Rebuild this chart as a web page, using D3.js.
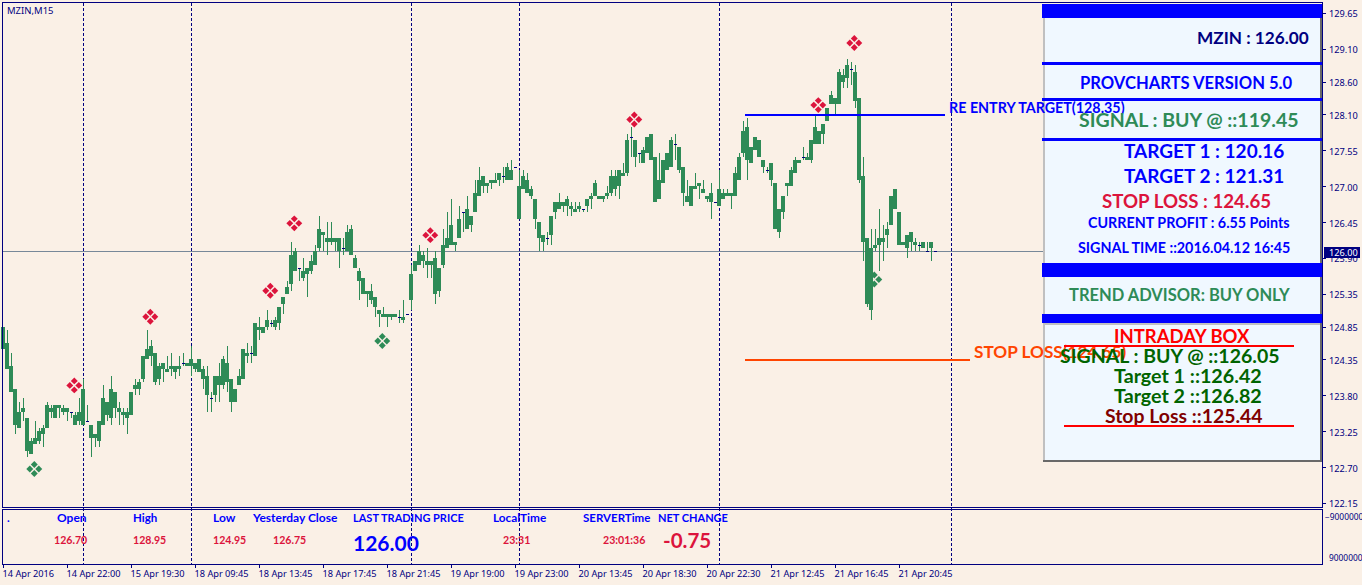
<!DOCTYPE html>
<html>
<head>
<meta charset="utf-8">
<script src="https://d3js.org/d3.v7.min.js"></script>
<style>
html, body { margin: 0; padding: 0; background: #FAF0E6; overflow: hidden; }
svg { display: block; }
.axis text { font-family: "Noto Sans", sans-serif; font-size: 9.2px; fill: #000080; }
.axis line { stroke: #000080; shape-rendering: crispEdges; }
.axis .domain { display: none; }
.panel text, .sub text, .obj text { font-family: Lato, sans-serif; font-weight: bold; }
</style>
</head>
<body>
<div id="graphic"></div>
<script>
// candle body edges and wick ends, one entry per 15 minute bar
var bodyTops = [
  124.85,124.60,124.25,123.90,123.55,123.60,123.45,123.10,123.15,123.25,
  123.30,123.65,123.60,123.65,123.65,123.60,123.60,123.55,123.50,123.55,
  123.90,123.40,123.35,123.20,123.40,123.75,123.70,123.90,123.85,123.60,
  123.55,123.55,123.85,123.95,124.00,124.40,124.50,124.55,124.45,124.25,
  124.30,124.20,124.25,124.25,124.25,124.30,124.30,124.35,124.30,124.35,
  124.20,124.10,123.75,124.10,124.10,124.35,124.30,124.05,123.90,124.10,
  124.50,124.45,124.45,124.90,124.85,124.85,124.95,124.90,124.95,125.15,
  125.30,125.45,125.95,126.00,125.75,125.70,125.75,125.85,126.00,126.35,
  126.30,126.20,126.20,126.20,126.20,126.05,126.30,126.35,125.90,125.70,
  125.60,125.40,125.40,125.30,125.10,125.05,125.05,125.05,125.05,125.00,
  125.00,125.05,125.65,125.85,126.00,125.95,125.85,125.85,125.90,125.75,
  126.10,126.20,126.40,126.15,126.50,126.60,126.65,126.55,126.90,127.10,
  127.15,127.05,127.10,127.10,127.20,127.15,127.30,127.25,127.30,127.00,
  127.15,127.10,126.95,126.80,126.45,126.25,126.20,126.55,126.75,126.75,
  126.75,126.80,126.70,126.65,126.70,126.65,126.80,126.85,127.05,126.85,
  126.85,126.90,127.15,127.15,127.25,127.20,127.70,127.75,127.70,127.50,
  127.55,127.75,127.80,127.45,127.10,127.40,127.50,127.70,127.65,127.60,
  127.30,126.85,127.00,127.00,127.05,126.95,126.85,126.90,126.75,126.95,
  126.90,126.90,126.90,127.20,127.45,127.85,127.90,127.60,127.75,127.70,
  127.40,127.25,127.35,127.05,126.65,126.85,127.05,127.25,127.40,127.40,
  127.45,127.45,127.70,127.90,127.85,127.95,128.20,128.40,128.35,128.75,
  128.70,128.85,128.80,128.75,128.35,127.15,126.20,126.05,126.10,126.20,
  126.20,126.35,126.85,126.95,126.60,126.15,126.25,126.30,126.15,126.10,
  126.15,126.00,126.15,126.00
];
var bodyBottoms = [
  124.50,124.20,123.85,123.35,123.30,123.55,122.95,122.90,123.05,123.10,
  123.20,123.30,123.55,123.45,123.60,123.55,123.55,123.55,123.35,123.40,
  123.35,123.40,123.15,123.15,123.10,123.35,123.50,123.45,123.60,123.55,
  123.50,123.45,123.50,123.90,123.90,124.05,124.35,124.40,124.00,124.05,
  124.20,124.15,124.20,124.15,124.20,124.30,124.25,124.25,124.20,124.15,
  124.05,123.80,123.75,123.80,123.95,123.95,124.00,123.70,123.70,123.95,
  124.05,124.40,124.45,124.40,124.80,124.75,124.85,124.90,124.85,124.90,
  125.20,125.35,125.50,125.70,125.75,125.60,125.65,125.70,125.80,126.05,
  126.25,126.15,126.15,126.15,126.00,126.05,126.00,125.95,125.75,125.55,
  125.35,125.35,125.25,125.15,125.05,125.00,125.00,125.00,125.00,125.00,
  124.95,125.05,125.25,125.70,125.80,125.85,125.80,125.80,125.35,125.40,
  125.80,126.05,126.10,126.10,126.20,126.60,126.35,126.40,126.60,126.85,
  127.00,127.00,127.05,127.05,127.10,127.15,127.10,127.10,127.30,126.50,
  126.95,126.90,126.85,126.50,126.20,126.15,126.20,126.25,126.60,126.65,
  126.70,126.70,126.65,126.60,126.65,126.65,126.70,126.80,126.85,126.80,
  126.80,126.85,126.90,126.95,127.00,127.15,127.20,127.75,127.45,127.50,
  127.35,127.50,127.40,126.75,126.80,127.05,127.25,127.30,127.65,127.25,
  126.90,126.75,126.70,126.95,127.00,126.90,126.80,126.75,126.75,126.70,
  126.80,126.85,126.85,126.85,127.10,127.50,127.40,127.35,127.55,127.45,
  127.30,127.25,127.10,126.35,126.30,126.60,127.00,127.00,127.20,127.35,
  127.45,127.40,127.40,127.65,127.65,127.80,128.00,128.25,128.25,128.25,
  128.60,128.65,128.80,128.30,127.10,126.15,125.20,125.10,126.05,126.10,
  126.15,126.25,126.40,126.65,126.10,126.10,126.05,126.15,126.10,126.10,
  126.05,126.00,126.05,126.00
];
var highs = [
  124.85,124.80,124.45,123.90,123.70,123.75,123.45,123.15,123.40,123.30,
  123.35,123.70,123.65,123.65,123.65,123.65,123.60,123.55,123.55,123.75,
  124.05,123.65,123.35,123.20,123.40,123.95,123.70,124.10,123.85,123.70,
  123.60,123.60,123.85,124.05,124.05,124.40,124.80,124.65,124.45,124.30,
  124.30,124.40,124.45,124.25,124.40,124.45,124.30,124.55,124.30,124.35,
  124.25,124.25,123.85,124.10,124.30,124.40,124.55,124.05,123.90,124.20,
  124.50,124.60,124.55,124.90,125.00,124.85,125.10,124.95,125.00,125.15,
  125.30,125.55,126.15,126.05,125.75,125.90,125.75,125.95,126.10,126.55,
  126.30,126.45,126.45,126.20,126.20,126.20,126.40,126.40,125.95,125.75,
  125.60,125.40,125.50,125.30,125.10,125.15,125.05,125.05,125.05,125.10,
  125.25,125.05,125.80,125.85,126.10,126.00,126.05,125.85,126.00,125.75,
  126.35,126.60,126.80,126.15,126.70,126.60,126.85,126.55,127.10,127.30,
  127.15,127.05,127.10,127.20,127.20,127.30,127.35,127.40,127.30,127.25,
  127.25,127.20,127.00,126.80,126.45,126.25,126.30,126.55,126.75,126.90,
  126.75,126.85,126.75,126.75,126.75,126.65,126.80,126.90,127.10,126.85,
  126.85,127.00,127.25,127.25,127.25,127.35,127.80,127.90,127.70,127.50,
  127.60,127.75,127.80,127.45,127.50,127.40,127.50,127.75,127.80,127.60,
  127.30,127.10,127.00,127.20,127.05,127.10,126.85,127.05,126.75,127.25,
  126.95,126.95,126.90,127.30,127.50,128.00,128.05,127.60,127.75,127.70,
  127.40,127.30,127.35,127.05,126.65,126.85,127.05,127.30,127.45,127.40,
  127.60,127.50,127.70,128.10,127.85,127.95,128.20,128.45,128.35,128.80,
  128.80,128.95,128.90,128.85,128.35,127.45,126.20,126.35,126.35,126.65,
  126.40,126.45,126.85,126.95,126.60,126.15,126.25,126.30,126.20,126.15,
  126.15,126.15,126.15,126.00
];
var lows = [
  124.50,124.20,123.85,123.20,123.30,123.40,122.85,122.90,123.05,123.05,
  123.00,123.30,123.45,123.45,123.45,123.50,123.40,123.45,123.35,123.35,
  123.35,123.40,122.85,123.00,123.00,123.35,123.40,123.35,123.45,123.35,
  123.35,123.20,123.50,123.80,123.80,124.00,124.35,124.25,123.95,123.95,
  124.00,124.15,124.10,124.05,124.10,124.25,124.25,124.10,124.15,124.15,
  123.90,123.55,123.55,123.70,123.70,123.90,123.85,123.55,123.70,123.95,
  124.05,124.30,124.30,124.40,124.65,124.75,124.80,124.85,124.80,124.80,
  125.05,125.35,125.40,125.70,125.55,125.55,125.30,125.65,125.80,126.00,
  126.00,125.95,126.10,126.00,125.75,125.95,126.00,125.95,125.75,125.25,
  125.35,125.15,125.20,125.00,124.85,125.00,124.85,124.95,125.00,124.90,
  124.90,125.05,125.10,125.70,125.80,125.75,125.60,125.60,125.20,125.30,
  125.75,126.05,126.10,126.00,126.20,126.30,126.35,126.30,126.60,126.85,
  126.90,126.90,126.95,127.05,127.00,127.05,127.10,127.10,127.30,126.50,
  126.95,126.90,126.80,126.35,126.00,126.00,126.10,126.10,126.50,126.65,
  126.60,126.55,126.55,126.60,126.60,126.60,126.60,126.65,126.85,126.80,
  126.75,126.80,126.85,126.85,126.80,127.15,127.15,127.45,127.30,127.35,
  127.35,127.50,127.40,126.75,126.80,127.05,127.25,127.30,127.40,127.20,
  126.70,126.75,126.70,126.95,126.80,126.90,126.75,126.50,126.75,126.70,
  126.80,126.85,126.65,126.85,127.10,127.45,127.10,127.35,127.55,127.45,
  127.20,127.20,127.00,126.35,126.20,126.50,126.85,127.00,127.20,127.35,
  127.40,127.40,127.35,127.65,127.65,127.65,128.00,128.25,128.10,128.25,
  128.50,128.50,128.55,128.20,127.05,125.85,125.15,124.95,126.00,125.70,
  125.85,126.05,126.40,126.65,126.10,126.10,125.90,126.00,126.00,126.00,
  126.05,126.00,125.85,126.00
];

var priceTicks = [129.65,129.10,128.60,128.10,127.55,127.00,126.45,125.90,125.35,124.85,124.35,123.80,123.25,122.70,122.15];
var timeLabels = ["14 Apr 2016","14 Apr 22:00","15 Apr 19:30","18 Apr 09:45","18 Apr 13:45","18 Apr 17:45","18 Apr 21:45",
  "19 Apr 19:00","19 Apr 23:00","20 Apr 13:45","20 Apr 18:30","20 Apr 22:30","21 Apr 12:45","21 Apr 16:45","21 Apr 20:45"];
var daySeparators = [20,47,102,129,179,237];
var subTicks = [-9000000,9000000];

var sellBars = [18,37,67,73,107,158,204,213];
var sellPrices = [123.95,125.00,125.40,126.43,126.25,128.02,128.24,129.19];
var buyBars = [8,95,218];
var buyPrices = [122.67,124.63,125.57];

var bid = 126.00;
var reEntry = 128.10;
var stopLine = 124.35;

var width = 1362,
    height = 585;

var svg = d3.select("#graphic")
    .append("svg")
    .attr("width", width)
    .attr("height", height);

var x = d3.scaleLinear().domain([0, 16]).range([3, 67]);
var y = d3.scaleLinear().domain([122.15, 129.65]).range([503, 13]);
var ySub = d3.scaleLinear().domain(d3.extent(subTicks)).range([516, 557]);

function hline(g, x1, x2, yy, color, w) {
  g.append("rect").attr("x", x1).attr("y", Math.round(yy))
    .attr("width", x2 - x1).attr("height", w).attr("fill", color)
    .attr("shape-rendering", "crispEdges");
}

// day separators run through both windows
svg.append("g").selectAll("line")
    .data(daySeparators)
    .enter().append("line")
    .attr("x1", d => x(d) + 0.5)
    .attr("x2", d => x(d) + 0.5)
    .attr("y1", 3)
    .attr("y2", 564)
    .attr("stroke", "#000080")
    .attr("stroke-dasharray", "3,2")
    .attr("shape-rendering", "crispEdges");

hline(svg, 3, 1322, y(bid), "#778899", 1);

function drawMarks(bars, prices, color) {
  var sym = d3.symbol().type(d3.symbolSquare).size(24);
  var g = svg.append("g");
  bars.forEach(function(b, i) {
    [[0,-4.5],[4.5,0],[0,4.5],[-4.5,0]].forEach(function(o) {
      g.append("path")
        .attr("d", sym())
        .attr("fill", color)
        .attr("transform", "translate(" + (x(b) - 0.7 + o[0]) + "," + (y(prices[i]) + o[1]) + ") rotate(45)");
    });
  });
}
drawMarks(sellBars, sellPrices, "#DC143C");
drawMarks(buyBars, buyPrices, "#2E8B57");

var candles = svg.append("g").attr("class", "candles").attr("shape-rendering", "crispEdges");
var bars = d3.range(bodyTops.length);

candles.selectAll("rect.wick")
    .data(bars)
    .enter().append("rect")
    .attr("class", "wick")
    .attr("x", d => x(d))
    .attr("y", d => y(highs[d]))
    .attr("width", 1)
    .attr("height", d => y(lows[d]) - y(highs[d]))
    .attr("fill", "#2E8B57");

candles.selectAll("rect.body")
    .data(bars.filter(d => bodyTops[d] != bodyBottoms[d]))
    .enter().append("rect")
    .attr("class", "body")
    .attr("x", d => x(d) - 2)
    .attr("y", d => y(bodyTops[d]))
    .attr("width", 4)
    .attr("height", d => y(bodyBottoms[d]) - y(bodyTops[d]))
    .attr("fill", "#2E8B57");

// open == close, terminal draws these as a short navy tick
candles.selectAll("rect.doji")
    .data(bars.filter(d => bodyTops[d] == bodyBottoms[d]))
    .enter().append("rect")
    .attr("class", "doji")
    .attr("x", d => x(d) - 1)
    .attr("y", d => Math.round(y(bodyTops[d])))
    .attr("width", 3)
    .attr("height", 1)
    .attr("fill", "#000080");

var obj = svg.append("g").attr("class", "obj");
hline(obj, 745, 945, y(reEntry), "#0000FF", 2);
hline(obj, 745, 970, y(stopLine), "#FF4500", 2);

// panel boxes
var panel = svg.append("g").attr("class", "panel");
function box(g, x0, y0, w, h, color) {
  g.append("rect").attr("x", x0).attr("y", y0).attr("width", w).attr("height", h)
    .attr("fill", color).attr("shape-rendering", "crispEdges");
}
box(panel, 1043, 18, 279, 444, "#F0F8FF");
box(panel, 1043, 18, 2, 444, "#C0C0C0");
box(panel, 1320, 18, 2, 444, "#696969");
box(panel, 1043, 460, 279, 2, "#696969");
box(panel, 1045, 323, 275, 2, "#C0C0C0");
box(panel, 1042, 4, 280, 14, "#0000FF");
box(panel, 1042, 62, 280, 3, "#0000FF");
box(panel, 1042, 98, 280, 3, "#0000FF");
box(panel, 1042, 138, 280, 3, "#0000FF");
box(panel, 1042, 263, 280, 14, "#0000FF");
box(panel, 1042, 314, 280, 9, "#0000FF");

function label(g, str, px, py, size, color) {
  g.append("text").attr("x", px).attr("y", py).attr("font-size", size).attr("fill", color).text(str);
}

// chart object labels sit over the box fill, under its text
var objText = svg.append("g").attr("class", "obj");
label(objText, "RE ENTRY TARGET(128.35)", 949, 113, 14.3, "#0000FF");
label(objText, "STOP LOSS(124.65)", 974, 358, 17.2, "#FF4500");

var txt = svg.append("g").attr("class", "panel");
label(txt, "MZIN : 126.00", 1197, 44, 17.2, "#000080");
label(txt, "PROVCHARTS VERSION 5.0", 1080, 89, 16.6, "#0000FF");
label(txt, "SIGNAL : BUY @ ::119.45", 1079, 127, 19.5, "#2E8B57");
label(txt, "TARGET 1 : 120.16", 1124, 158, 19, "#0000FF");
label(txt, "TARGET 2 : 121.31", 1124, 183, 19, "#0000FF");
label(txt, "STOP LOSS : 124.65", 1102, 208, 18.7, "#DC143C");
label(txt, "CURRENT PROFIT : 6.55 Points", 1088, 228, 14.3, "#0000FF");
label(txt, "SIGNAL TIME ::2016.04.12 16:45", 1078, 253, 14.3, "#0000FF");
label(txt, "TREND ADVISOR: BUY ONLY", 1069, 301, 16.5, "#2E8B57");
label(txt, "INTRADAY BOX", 1114, 343, 18.5, "#FF0000");
hline(txt, 1064, 1294, 345, "#FF0000", 2);
label(txt, "SIGNAL : BUY @ ::126.05", 1060, 363, 19.5, "#006400");
label(txt, "Target 1 ::126.42", 1114, 383, 19.7, "#006400");
label(txt, "Target 2 ::126.82", 1114, 403, 19.7, "#006400");
label(txt, "Stop Loss ::125.44", 1105, 423, 19.4, "#800000");
hline(txt, 1064, 1294, 425, "#FF0000", 2);

// sub window readout
var sub = svg.append("g").attr("class", "sub");
label(sub, ".", 7, 522, 11.5, "#0000FF");
label(sub, "Open", 57, 522, 12, "#0000FF");
label(sub, "High", 133, 522, 11.5, "#0000FF");
label(sub, "Low", 213, 522, 12, "#0000FF");
label(sub, "Yesterday Close", 253, 522, 12, "#0000FF");
label(sub, "LAST TRADING PRICE", 353, 522, 11, "#0000FF");
label(sub, "LocalTime", 493, 522, 11.8, "#0000FF");
label(sub, "SERVERTime", 583, 522, 11.5, "#0000FF");
label(sub, "NET CHANGE", 658, 522, 11, "#0000FF");
label(sub, "126.70", 54, 544, 10.6, "#DC143C");
label(sub, "128.95", 133, 544, 10.6, "#DC143C");
label(sub, "124.95", 213, 544, 10.6, "#DC143C");
label(sub, "126.75", 273, 544, 10.6, "#DC143C");
label(sub, "23:31", 503, 544, 10.6, "#DC143C");
label(sub, "23:01:36", 603, 544, 10.6, "#DC143C");
label(sub, "126.00", 353, 551, 21, "#0000FF");
label(sub, "-0.75", 663, 548, 20.5, "#DC143C");

// window frames
var frame = svg.append("g").attr("fill", "none").attr("stroke", "#000080").attr("shape-rendering", "crispEdges");
frame.append("rect").attr("x", 2.5).attr("y", 2.5).attr("width", 1320).attr("height", 505);
frame.append("rect").attr("x", 2.5).attr("y", 509.5).attr("width", 1320).attr("height", 55);

svg.append("text").attr("x", 7).attr("y", 14)
    .attr("font-family", "Noto Sans").attr("font-size", 9.5).attr("fill", "#000080").text("MZIN,M15");

var axisX = svg.append("g")
    .attr("class", "axis")
    .attr("transform", "translate(0,564)")
    .call(d3.axisBottom(x)
      .tickSize(4)
      .tickValues(timeLabels.map((d, i) => i * 16))
      .tickFormat((d, i) => timeLabels[i]));
axisX.selectAll("text").attr("text-anchor", "start").attr("x", -1).attr("y", 6);

var axisY = svg.append("g")
    .attr("class", "axis")
    .attr("transform", "translate(1322,0)")
    .call(d3.axisRight(y)
      .tickSize(4)
      .tickPadding(3)
      .tickValues(priceTicks)
      .tickFormat(d3.format(".2f")));
axisY.selectAll("text").attr("y", 1);

var axisSub = svg.append("g")
    .attr("class", "axis")
    .attr("transform", "translate(1322,0)")
    .call(d3.axisRight(ySub)
      .tickSize(0)
      .tickPadding(3)
      .tickValues(subTicks)
      .tickFormat(d3.format("d")));
axisSub.selectAll("text")
    .style("font-size", "8.4px")
    .attr("y", 1)
    .attr("x", d => d < 0 ? 3 : 7);

// last price flag on the scale
box(svg, 1324, 247, 36, 11, "#000080");
svg.append("text").attr("x", 1329).attr("y", 256)
    .attr("font-family", "Noto Sans").attr("font-size", 9.2).attr("fill", "#FFFFFF").text("126.00");
</script>
</body>
</html>
